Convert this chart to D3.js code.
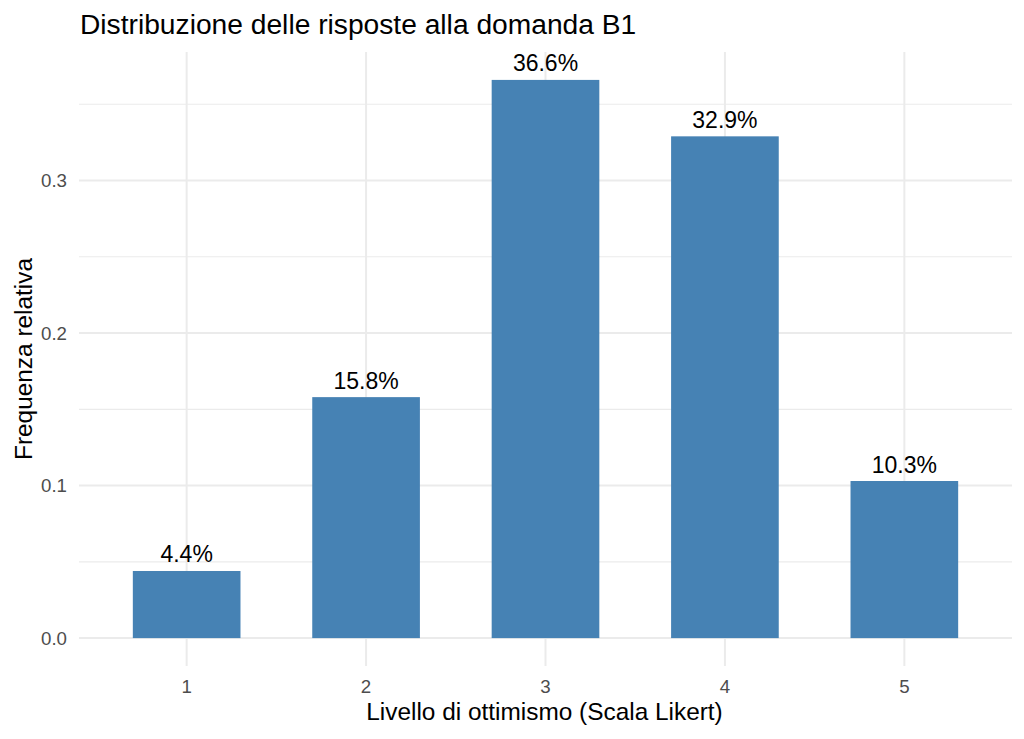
<!DOCTYPE html>
<html>
<head>
<meta charset="utf-8">
<script src="https://cdn.jsdelivr.net/npm/d3@7"></script>
<style>
  html, body { margin: 0; padding: 0; background: #fff; }
  svg { display: block; font-family: "Liberation Sans", Arial, sans-serif; }
</style>
</head>
<body>
<svg id="chart" width="1024" height="739"></svg>
<script>
const categories = ["1", "2", "3", "4", "5"];
const values = [0.044, 0.158, 0.366, 0.329, 0.103];
const yMajorTicks = [0, 0.1, 0.2, 0.3];
const yMinorTicks = [0.05, 0.15, 0.25, 0.35];
const titleText = "Distribuzione delle risposte alla domanda B1";
const xTitle = "Livello di ottimismo (Scala Likert)";
const yTitle = "Frequenza relativa";

const svg = d3.select("#chart");
const panel = { left: 79, right: 1012, top: 52, bottom: 666 };

const yMax = d3.max(values);
const expand = yMax * 0.05;
const y = d3.scaleLinear()
  .domain([-expand, yMax + expand])
  .range([panel.bottom, panel.top]);

const x = d3.scaleBand()
  .domain(categories)
  .range([panel.left, panel.right])
  .paddingInner(0.4)
  .paddingOuter(0.3);

const grid = svg.append("g");
grid.selectAll("line.minor").data(yMinorTicks).enter().append("line")
  .attr("x1", panel.left).attr("x2", panel.right)
  .attr("y1", d => y(d)).attr("y2", d => y(d))
  .attr("stroke", "#ebebeb").attr("stroke-width", 1.1);
grid.selectAll("line.majorH").data(yMajorTicks).enter().append("line")
  .attr("x1", panel.left).attr("x2", panel.right)
  .attr("y1", d => y(d)).attr("y2", d => y(d))
  .attr("stroke", "#ebebeb").attr("stroke-width", 2);
grid.selectAll("line.majorV").data(categories).enter().append("line")
  .attr("x1", d => x(d) + x.bandwidth() / 2).attr("x2", d => x(d) + x.bandwidth() / 2)
  .attr("y1", panel.top).attr("y2", panel.bottom)
  .attr("stroke", "#ebebeb").attr("stroke-width", 2);

svg.append("g").selectAll("rect").data(values).enter().append("rect")
  .attr("x", (d, i) => x(categories[i]))
  .attr("width", x.bandwidth())
  .attr("y", d => y(d))
  .attr("height", d => y(0) - y(d))
  .attr("fill", "#4682B4");

const fmt = d3.format(".1%");
svg.append("g").selectAll("text").data(values).enter().append("text")
  .attr("x", (d, i) => x(categories[i]) + x.bandwidth() / 2)
  .attr("y", d => y(d) - 8.5)
  .attr("text-anchor", "middle")
  .attr("font-size", 23)
  .attr("fill", "#000")
  .text(d => fmt(d));

const yAxis = d3.axisLeft(y).tickValues(yMajorTicks).tickFormat(d3.format(".1f")).tickSize(0).tickPadding(12);
const yg = svg.append("g").attr("transform", `translate(${panel.left},0)`).call(yAxis);
yg.select(".domain").remove();
yg.selectAll("text").attr("font-size", 18.7).attr("fill", "#4d4d4d")
  .attr("font-family", "Liberation Sans, Arial, sans-serif");

const xAxis = d3.axisBottom(x).tickSize(0).tickPadding(14);
const xg = svg.append("g").attr("transform", `translate(0,${panel.bottom})`).call(xAxis);
xg.select(".domain").remove();
xg.selectAll("text").attr("font-size", 18.7).attr("fill", "#4d4d4d")
  .attr("font-family", "Liberation Sans, Arial, sans-serif");

svg.append("text")
  .attr("x", 80).attr("y", 34)
  .attr("font-size", 28.2).attr("fill", "#000")
  .text(titleText);

svg.append("text")
  .attr("x", (panel.left + panel.right) / 2 - 1).attr("y", 720)
  .attr("text-anchor", "middle")
  .attr("font-size", 24.4).attr("fill", "#000")
  .text(xTitle);

svg.append("text")
  .attr("transform", `translate(32,${(panel.top + panel.bottom) / 2}) rotate(-90)`)
  .attr("text-anchor", "middle")
  .attr("font-size", 24.4).attr("fill", "#000")
  .text(yTitle);
</script>
</body>
</html>
